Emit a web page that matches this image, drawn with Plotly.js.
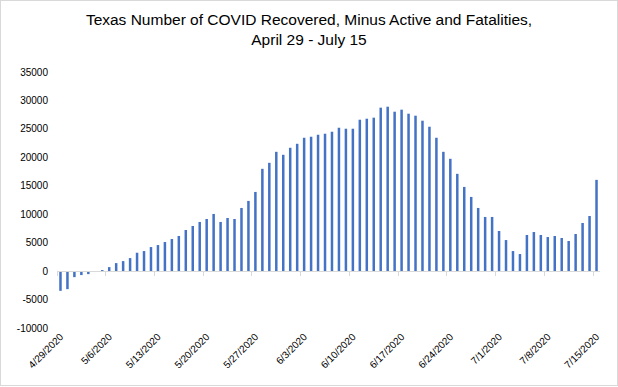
<!DOCTYPE html>
<html>
<head>
<meta charset="utf-8">
<script src="https://cdn.plot.ly/plotly-3.0.1.min.js"></script>
<style>
html,body{margin:0;padding:0;background:#fff;}
#wrap{position:relative;width:618px;height:387px;}
#chart{width:618px;height:387px;}
#frame{position:absolute;left:0;top:0;width:618px;height:386px;box-sizing:border-box;border:1px solid #d9d9d9;pointer-events:none;}
</style>
</head>
<body>
<div id="wrap"><div id="chart"></div><div id="frame"></div></div>
<script>
// Dates 4/29/2020 .. 7/15/2020 (one bar per day)
const dates = [
"4/29/2020","4/30/2020","5/1/2020","5/2/2020","5/3/2020","5/4/2020","5/5/2020",
"5/6/2020","5/7/2020","5/8/2020","5/9/2020","5/10/2020","5/11/2020","5/12/2020",
"5/13/2020","5/14/2020","5/15/2020","5/16/2020","5/17/2020","5/18/2020","5/19/2020",
"5/20/2020","5/21/2020","5/22/2020","5/23/2020","5/24/2020","5/25/2020","5/26/2020",
"5/27/2020","5/28/2020","5/29/2020","5/30/2020","5/31/2020","6/1/2020","6/2/2020",
"6/3/2020","6/4/2020","6/5/2020","6/6/2020","6/7/2020","6/8/2020","6/9/2020",
"6/10/2020","6/11/2020","6/12/2020","6/13/2020","6/14/2020","6/15/2020","6/16/2020",
"6/17/2020","6/18/2020","6/19/2020","6/20/2020","6/21/2020","6/22/2020","6/23/2020",
"6/24/2020","6/25/2020","6/26/2020","6/27/2020","6/28/2020","6/29/2020","6/30/2020",
"7/1/2020","7/2/2020","7/3/2020","7/4/2020","7/5/2020","7/6/2020","7/7/2020",
"7/8/2020","7/9/2020","7/10/2020","7/11/2020","7/12/2020","7/13/2020","7/14/2020",
"7/15/2020"];

const netRecovered = [
-3470,-3170,-1060,-700,-530,0,180,
700,1410,1760,2290,3230,3525,4230,
4580,5110,5640,6170,7230,7930,8640,
9165,10050,8640,9340,9165,11100,12340,
13920,17980,19035,20970,20445,21680,22380,
23440,23620,23970,24150,24500,25200,25030,
25030,26610,26790,26970,28730,28900,28020,
28380,27670,27320,26440,25380,23440,20970,
19740,17100,14800,13040,11100,9520,9520,
7050,5460,3525,3000,6345,6870,6345,
5990,6170,5820,5290,6520,8460,9690,
16040];

const labelDates = ["4/29/2020","5/6/2020","5/13/2020","5/20/2020","5/27/2020","6/3/2020",
"6/10/2020","6/17/2020","6/24/2020","7/1/2020","7/8/2020","7/15/2020"];
const yTicks = [-10000,-5000,0,5000,10000,15000,20000,25000,30000,35000];
const boundaryTicks = [-0.5,6.5,13.5,20.5,27.5,34.5,41.5,48.5,55.5,62.5,69.5,76.5];

const font = "Liberation Sans, Arial, sans-serif";

const data = [
  {type:"bar", x:dates, y:netRecovered, marker:{color:"#4472C4"}, hoverinfo:"x+y", showlegend:false},
  // invisible helper to host the zero-line axis with boundary ticks
  {type:"scatter", x:[0], y:[0], xaxis:"x2", mode:"markers", marker:{opacity:0}, hoverinfo:"skip", showlegend:false}
];

const layout = {
  width:618, height:387,
  margin:{l:57, r:18, t:72, b:59},
  paper_bgcolor:"#fff", plot_bgcolor:"#fff",
  bargap:0.64,
  title:{text:"Texas Number of COVID Recovered, Minus Active and Fatalities,<br>April 29 - July 15",
         font:{family:font, size:15.5, color:"#000"}, x:0.5, xanchor:"center", y:0.936, yanchor:"top"},
  xaxis:{type:"category", range:[-0.5,77.5], tickmode:"array", tickvals:labelDates, ticktext:labelDates,
         tickangle:-45, showline:false, showgrid:false, zeroline:false, ticks:"",
         tickfont:{family:font, size:10, color:"#000"}, fixedrange:true},
  xaxis2:{overlaying:"x", anchor:"free", position:10000/45000, range:[-0.5,77.5], type:"linear",
          showline:true, linecolor:"#d9d9d9", linewidth:1, ticks:"outside", ticklen:4, tickcolor:"#d9d9d9",
          tickvals:boundaryTicks, showticklabels:false, showgrid:false, zeroline:false, fixedrange:true},
  yaxis:{range:[-10000,35000], tickmode:"array", tickvals:yTicks, ticktext:yTicks.map(String),
         showgrid:false, zeroline:false, showline:false, ticks:"", ticklabelstandoff:8,
         tickfont:{family:font, size:10, color:"#000"}, fixedrange:true}
};

Plotly.newPlot("chart", data, layout, {displayModeBar:false, staticPlot:true});
</script>
</body>
</html>
